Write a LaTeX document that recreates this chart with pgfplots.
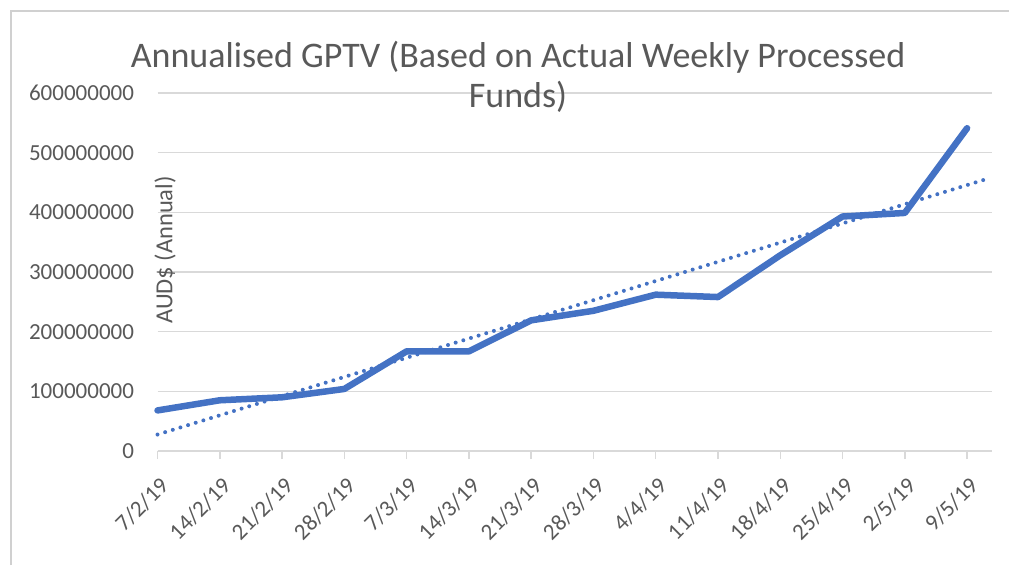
\documentclass[border=0pt]{standalone}
\usepackage{pgfplots}
\pgfplotsset{compat=1.18}
\usepackage{fontspec}
\setmainfont{Carlito}
\definecolor{txt}{HTML}{595959}
\definecolor{gridc}{HTML}{D9D9D9}
\definecolor{lineblue}{HTML}{4472C4}
\definecolor{framec}{HTML}{D0D0D0}
\begin{document}
\begin{tikzpicture}[x=1pt,y=1pt]
\useasboundingbox (0,0) rectangle (1009,565);
\draw[framec, line width=1.5pt] (11,0) -- (11,554) -- (1009,554);
\begin{axis}[
  at={(157.5pt,114pt)}, anchor=south west,
  scale only axis, width=834.5pt, height=358pt,
  xmin=0, xmax=13.4, ymin=0, ymax=600000000,
  axis lines*=left,
  y axis line style={draw=none},
  x axis line style={gridc, line width=1.5pt},
  ytick={0,100000000,200000000,300000000,400000000,500000000,600000000},
  scaled y ticks=false,
  yticklabel style={/pgf/number format/fixed, /pgf/number format/precision=0, /pgf/number format/1000 sep={}, font=\fontsize{23}{25}\selectfont, text=txt, xshift=-12pt},
  /pgf/number format/assume math mode=true,
  ymajorgrids, grid style={gridc, line width=1.5pt},
  ytick style={draw=none},
  xtick={0,...,13},
  xticklabels={7/2/19,14/2/19,21/2/19,28/2/19,7/3/19,14/3/19,21/3/19,28/3/19,4/4/19,11/4/19,18/4/19,25/4/19,2/5/19,9/5/19},
  xticklabel style={xshift=1pt, yshift=-12pt, rotate=45, anchor=north east, font=\fontsize{23}{25}\selectfont, text=txt},
  tick align=outside, major tick length=8pt,
  xtick style={gridc, line width=1.5pt},
  clip=false,
]
\addplot[lineblue, line width=6.5pt, line join=round, line cap=round] coordinates {
(0,68000000) (1,85000000) (2,90000000) (3,104000000) (4,167000000) (5,167000000)
(6,219000000) (7,235000000) (8,262000000) (9,258000000) (10,328000000)
(11,393000000) (12,399000000) (13,541000000)};
\addplot[lineblue, line width=4pt, line cap=round, dash pattern=on 0pt off 8pt] coordinates {
(0,27600000) (13.35,457000000)};
\end{axis}
\node[text=txt, font=\fontsize{36}{40}\selectfont, anchor=base, inner sep=0pt] at (518,497) {Annualised GPTV (Based on Actual Weekly Processed};
\node[text=txt, font=\fontsize{36}{40}\selectfont, anchor=base, inner sep=0pt] at (518,457) {Funds)};
\node[text=txt, rotate=90, font=\fontsize{24.5}{26}\selectfont, inner sep=0pt] at (165,315) {AUD\$ (Annual)};
\end{tikzpicture}
\end{document}
